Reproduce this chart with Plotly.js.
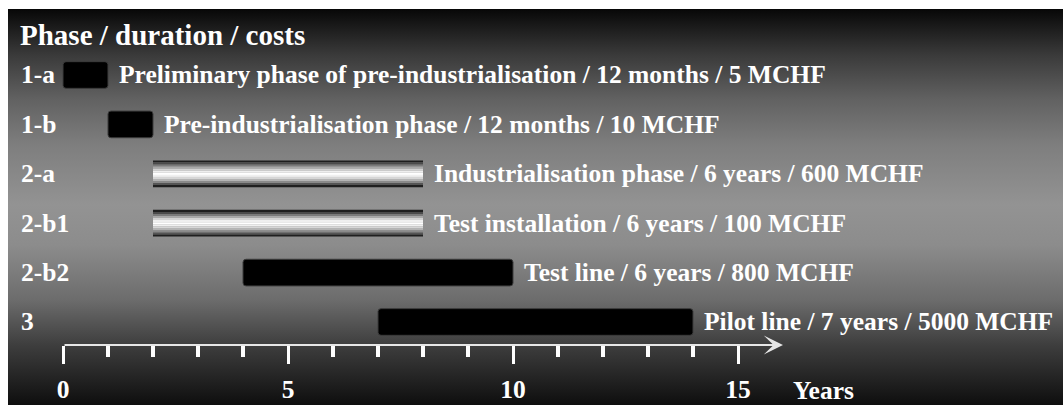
<!DOCTYPE html>
<html>
<head>
<meta charset="utf-8">
<script src="https://cdn.plot.ly/plotly-3.0.1.min.js"></script>
<style>
  html, body { margin: 0; padding: 0; background: #ffffff; overflow: hidden; }
  #wrap {
    position: absolute; left: 8px; top: 9px; width: 1055px; height: 396px;
    background: linear-gradient(to bottom,
      #070707 0%, #3a3a3a 11.6%, #626262 23%, #7e7e7e 34.3%,
      #939393 49.5%, #8c8c8c 59.6%, #6c6c6c 73.5%, #3e3e3e 84.8%, #0e0e0e 100%);
  }
  #chart { width: 1055px; height: 396px; }
</style>
</head>
<body>
<div id="wrap"><div id="chart"></div></div>
<script>
// ---- data ----
const chartTitle = 'Phase / duration / costs';
const phases = ['1-a', '1-b', '2-a', '2-b1', '2-b2', '3'];
const descriptions = [
  'Preliminary phase of pre-industrialisation / 12 months / 5 MCHF',
  'Pre-industrialisation phase / 12 months / 10 MCHF',
  'Industrialisation phase / 6 years / 600 MCHF',
  'Test installation / 6 years / 100 MCHF',
  'Test line / 6 years / 800 MCHF',
  'Pilot line / 7 years / 5000 MCHF'
];
const startYear = [0, 1, 2, 2, 4, 7];
const durationYears = [1, 1, 6, 6, 6, 7];
const barKind = ['solid', 'solid', 'metal', 'metal', 'solid', 'solid'];
const majorTicks = [0, 5, 10, 15];
const majorTickLabels = ['0', '5', '10', '15'];
const minorTicks = [1, 2, 3, 4, 6, 7, 8, 9, 11, 12, 13, 14];
const axisLabel = 'Years';
const axisEnd = 16;

// ---- style ----
const FONT = "'Liberation Serif', 'Times New Roman', Times, serif";
const txt = (size) => ({ family: FONT, size: size, color: '#ffffff', weight: 700 });
const BAR_H = 0.54;
const metalStripes = ['#1e1e1e', '#4a4a4a', '#7a7a7a', '#a8a8a8', '#d2d2d2', '#efefef',
                      '#ffffff', '#f0f0f0', '#d6d6d6', '#b4b4b4', '#8a8a8a', '#555555', '#202020'];

const rows = phases.map((_, i) => i);
const solidIdx = rows.filter(i => barKind[i] === 'solid');
const metalIdx = rows.filter(i => barKind[i] === 'metal');

const traces = [];
traces.push({
  type: 'bar', orientation: 'h',
  y: solidIdx, base: solidIdx.map(i => startYear[i]), x: solidIdx.map(i => durationYears[i]),
  width: BAR_H,
  marker: { color: '#000000', line: { color: '#3c3c3c', width: 1 }, cornerradius: 3 },
  hoverinfo: 'skip'
});
const sh = BAR_H / metalStripes.length;
metalStripes.forEach((c, k) => {
  traces.push({
    type: 'bar', orientation: 'h',
    y: metalIdx, base: metalIdx.map(i => startYear[i]), x: metalIdx.map(i => durationYears[i]),
    width: sh * 1.04, offset: -BAR_H / 2 + k * sh,
    marker: { color: c, line: { width: 0 } },
    hoverinfo: 'skip'
  });
});

const annotations = [];
rows.forEach(i => {
  annotations.push({
    xref: 'paper', x: 0, xshift: 1, xanchor: 'left',
    yref: 'y', y: i, yanchor: 'middle',
    text: phases[i], showarrow: false, font: txt(25.5)
  });
  annotations.push({
    xref: 'x', x: startYear[i] + durationYears[i], xanchor: 'left', xshift: 9,
    yref: 'y', y: i, yanchor: 'middle',
    text: descriptions[i], showarrow: false, font: txt(25.5)
  });
});
annotations.push({
  xref: 'x', x: axisEnd, yref: 'paper', y: 0,
  axref: 'x', ax: majorTicks[0], ayref: 'pixel', ay: 0,
  text: '', showarrow: true, arrowhead: 3, arrowsize: 1.6, arrowwidth: 2,
  arrowcolor: '#e6e6e6', standoff: 0
});
annotations.push({
  xref: 'x', x: 16.17, xanchor: 'left',
  yref: 'paper', y: 0, yanchor: 'top', yshift: -29,
  text: axisLabel, showarrow: false, font: txt(25.5)
});

const layout = {
  width: 1055, height: 396,
  margin: { l: 10, r: 235, t: 0, b: 60, pad: 0 },
  paper_bgcolor: 'rgba(0,0,0,0)', plot_bgcolor: 'rgba(0,0,0,0)',
  showlegend: false, barmode: 'overlay', hovermode: false,
  title: {
    text: chartTitle, font: txt(29),
    xref: 'container', x: 12 / 1055, xanchor: 'left',
    yref: 'container', y: 1 - 26 / 396, yanchor: 'middle'
  },
  xaxis: {
    range: [-1, 17], showgrid: false, zeroline: false, showline: false,
    tickmode: 'array', tickvals: majorTicks, ticktext: majorTickLabels,
    ticks: 'outside', ticklen: 18, tickwidth: 3, tickcolor: '#ffffff',
    ticklabelstandoff: 3,
    tickfont: txt(25.5),
    minor: { tickmode: 'array', tickvals: minorTicks, ticks: 'outside', ticklen: 11, tickwidth: 4, tickcolor: '#ffffff', showgrid: false }
  },
  yaxis: { range: [5.466, -1.336], visible: false, fixedrange: true },
  annotations: annotations
};

Plotly.newPlot('chart', traces, layout, { displayModeBar: false, staticPlot: true });
</script>
</body>
</html>
